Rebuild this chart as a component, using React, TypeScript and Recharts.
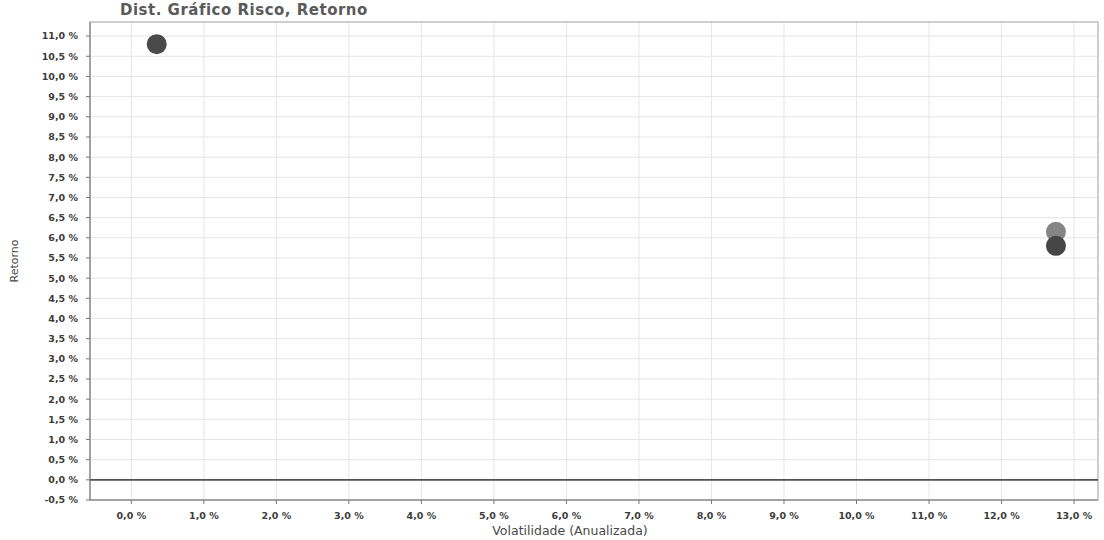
import {
  ScatterChart,
  Scatter,
  XAxis,
  YAxis,
  CartesianGrid,
  ReferenceLine,
  ReferenceArea,
  Cell,
} from "recharts";

// volatilidade anualizada (%) e retorno (%) de cada ponto
const funds = ["Fundo A", "Fundo B", "Fundo C"];
const volatility = [0.35, 12.75, 12.75];
const returns = [10.8, 6.15, 5.8];
const pointColors = ["#4a4a4a", "#858585", "#454545"];

const xTicks = [0, 1, 2, 3, 4, 5, 6, 7, 8, 9, 10, 11, 12, 13];
const yTicks = [
  -0.5, 0, 0.5, 1, 1.5, 2, 2.5, 3, 3.5, 4, 4.5, 5, 5.5, 6, 6.5, 7, 7.5, 8, 8.5,
  9, 9.5, 10, 10.5, 11,
];

const X_DOMAIN: [number, number] = [-0.57, 13.33];
const Y_DOMAIN: [number, number] = [-0.5, 11.35];

const pct = (v: number) => `${v.toFixed(1).replace(".", ",")} %`;

const tickStyle = {
  fontSize: 9.5,
  fontWeight: 700,
  fill: "#3c3c3c",
  fontFamily: "DejaVu Sans, sans-serif",
};

const Dot = (props: any) => {
  const { cx, cy, fill } = props;
  if (cx == null || cy == null) return null;
  return <circle cx={cx} cy={cy} r={10} fill={fill} />;
};

export default function App() {
  const data = funds.map((name, i) => ({
    name,
    x: volatility[i],
    y: returns[i],
  }));

  return (
    <div
      style={{
        position: "relative",
        width: 1104,
        height: 540,
        overflow: "hidden",
        background: "#fff",
        fontFamily: "DejaVu Sans, sans-serif",
      }}
    >
      <style>{`body{margin:0;background:#fff}`}</style>
      <div
        style={{
          position: "absolute",
          left: 120,
          top: 1,
          fontSize: 15,
          lineHeight: "18px",
          fontWeight: 700,
          color: "#5a5a5a",
          letterSpacing: 0.5,
        }}
      >
        Dist. Gráfico Risco, Retorno
      </div>
      <ScatterChart
        width={1104}
        height={540}
        margin={{ top: 22, right: 6, bottom: 0, left: 0 }}
      >
        <CartesianGrid stroke="#e6e6e6" />
        <ReferenceArea
          x1={X_DOMAIN[0]}
          x2={X_DOMAIN[1]}
          y1={Y_DOMAIN[0]}
          y2={Y_DOMAIN[1]}
          fill="none"
          stroke="#c4c4c4"
          strokeWidth={1.5}
        />
        <XAxis
          type="number"
          dataKey="x"
          domain={X_DOMAIN}
          ticks={xTicks}
          tickFormatter={pct}
          tick={tickStyle}
          tickSize={4}
          tickMargin={8}
          height={40}
          stroke="#777"
          allowDataOverflow
          label={{
            value: "Volatilidade (Anualizada)",
            position: "insideBottom",
            offset: 5,
            dx: -24,
            style: { fontSize: 12.5, fill: "#4a4a4a", fontFamily: "DejaVu Sans, sans-serif" },
          }}
        />
        <YAxis
          type="number"
          dataKey="y"
          domain={Y_DOMAIN}
          ticks={yTicks}
          tickFormatter={pct}
          tick={tickStyle}
          tickSize={4}
          tickMargin={8}
          width={90}
          stroke="#777"
          interval={0}
          allowDataOverflow
          label={{
            value: "Retorno",
            angle: -90,
            position: "insideLeft",
            offset: 14,
            style: {
              fontSize: 11,
              fill: "#4a4a4a",
              textAnchor: "middle",
              fontFamily: "DejaVu Sans, sans-serif",
            },
          }}
        />
        <ReferenceLine y={0} stroke="#505050" strokeWidth={1.6} />
        <Scatter data={data} shape={Dot} isAnimationActive={false}>
          {data.map((d, i) => (
            <Cell key={d.name} fill={pointColors[i]} />
          ))}
        </Scatter>
      </ScatterChart>
    </div>
  );
}
